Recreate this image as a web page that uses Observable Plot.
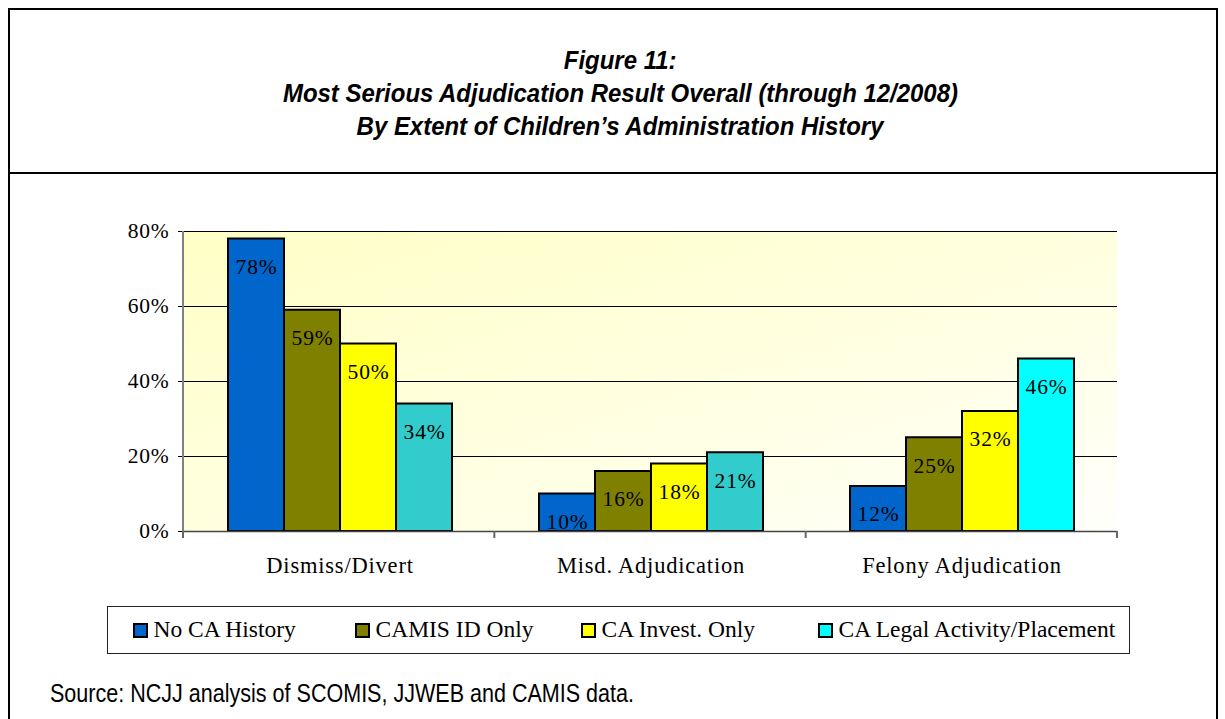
<!DOCTYPE html>
<html><head><meta charset="utf-8">
<script src="https://cdn.jsdelivr.net/npm/d3@7"></script>
<script src="https://cdn.jsdelivr.net/npm/@observablehq/plot@0.6"></script>
<style>
  html,body{margin:0;padding:0;background:#fff;}
  body{width:1225px;height:719px;overflow:hidden;position:relative;font-family:"Liberation Serif","Times New Roman",serif;}
  #outer{position:absolute;left:8px;top:8px;width:1210px;height:740px;border:2px solid #000;box-sizing:border-box;}
  #sep{position:absolute;left:8px;top:172px;width:1210px;height:2px;background:#000;}
  #title{position:absolute;left:0;top:44px;width:1240px;text-align:center;font-family:"Liberation Sans",Arial,sans-serif;font-weight:bold;font-style:italic;font-size:26px;line-height:33px;color:#000;}
  #title span{display:inline-block;white-space:nowrap;transform-origin:center;}
  #chart{position:absolute;left:0;top:173px;}
  #chart svg text{letter-spacing:0.8px;}
  #legend{position:absolute;left:107px;top:606px;width:1023px;height:48px;border:1.5px solid #222;box-sizing:border-box;font-size:23.5px;}
  .item{position:absolute;top:0;height:45px;display:flex;align-items:center;white-space:nowrap;}
  .sw{width:11px;height:11px;border:2px solid #000;margin-right:6px;margin-top:1px;}
  #source{position:absolute;left:50px;top:679px;font-family:"Liberation Sans",Arial,sans-serif;font-size:25px;line-height:28px;white-space:nowrap;transform-origin:left center;}
</style>
</head><body>
<div id="outer"></div>
<div id="sep"></div>
<div id="title"><span>Figure 11:</span><br><span>Most Serious Adjudication Result Overall (through 12/2008)</span><br><span>By Extent of Children’s Administration History</span></div>
<div id="chart"></div>
<div id="legend"></div>
<div id="source">Source: NCJJ analysis of SCOMIS, JJWEB and CAMIS data.</div>
<script>
// ---- data ----
const groups = ["Dismiss/Divert", "Misd. Adjudication", "Felony Adjudication"];
const series = ["No CA History", "CAMIS ID Only", "CA Invest. Only", "CA Legal Activity/Placement"];
const noCAHistory = [78, 10, 12];
const camisIdOnly = [59, 16, 25];
const caInvestOnly = [50, 18, 32];
const caLegalActivity = [34, 21, 46];
const yTicks = [0, 20, 40, 60, 80];
const gridTicks = [20, 40, 60, 80];
const legendColors = ["#0066CC", "#808000", "#FFFF00", "#00FFFF"];

const data = [];
[noCAHistory, camisIdOnly, caInvestOnly, caLegalActivity].forEach((vals, si) =>
  vals.forEach((v, gi) => data.push({group: groups[gi], series: series[si], value: v})));

const colorOf = new Map(series.map((s, i) => [s, legendColors[i]]));
// the 4th series is teal in the first two groups, bright cyan in the last group
const barFill = d => (d.series === series[3] && d.group !== groups[2]) ? "#33CCCC" : colorOf.get(d.series);

const W = 1225, H = 420, mL = 183, mR = 108, mT = 58, mB = 62;

const chart = Plot.plot({
  width: W, height: H,
  marginLeft: mL, marginRight: mR, marginTop: mT, marginBottom: mB,
  style: {background: "transparent", fontFamily: "'Liberation Serif','Times New Roman',serif", fontSize: "21px", color: "#000", overflow: "visible"},
  fx: {domain: groups, padding: 0, label: null},
  x: {domain: series, paddingInner: 0, paddingOuter: 0.73, axis: null},
  y: {domain: [0, 80], label: null},
  marks: [
    Plot.ruleY(gridTicks, {stroke: "#000", strokeWidth: 1}),
    Plot.barY(data, {fx: "group", x: "series", y: "value", fill: barFill, stroke: "#000", strokeWidth: 2}),
    Plot.text(data, {fx: "group", x: "series", y: "value", text: d => d.value + "%", dy: 28, fontSize: 21.5, fill: "#000"}),
    Plot.ruleY([0], {stroke: "#444", strokeWidth: 1.5}),
    Plot.axisY(yTicks, {tickFormat: d => d + "%", tickSize: 6, tickPadding: 9, fontSize: 21.5, label: null}),
    Plot.axisFx({anchor: "bottom", tickSize: 0, tickPadding: 26, fontSize: 22.5, label: null})
  ]
});
document.getElementById("chart").appendChild(chart);

// background gradient + axis lines derived from plot margins
const ns = "http://www.w3.org/2000/svg";
const defs = document.createElementNS(ns, "defs");
defs.innerHTML = '<linearGradient id="bgGrad" x1="0" y1="0" x2="1" y2="1"><stop offset="0" stop-color="#FFFFC6"/><stop offset="0.6" stop-color="#FFFFE4"/><stop offset="1" stop-color="#FFFFFB"/></linearGradient>';
const bg = document.createElementNS(ns, "rect");
bg.setAttribute("x", mL); bg.setAttribute("y", mT);
bg.setAttribute("width", W - mL - mR); bg.setAttribute("height", H - mT - mB);
bg.setAttribute("fill", "url(#bgGrad)");
const firstG = chart.querySelector("g");
chart.insertBefore(defs, firstG);
chart.insertBefore(bg, firstG);
const yLine = document.createElementNS(ns, "line");
yLine.setAttribute("x1", mL); yLine.setAttribute("x2", mL);
yLine.setAttribute("y1", mT); yLine.setAttribute("y2", H - mB);
yLine.setAttribute("stroke", "#808080"); yLine.setAttribute("stroke-width", 2);
chart.appendChild(yLine);
const step = (W - mL - mR) / groups.length;
for (let i = 0; i <= groups.length; i++) {
  const t = document.createElementNS(ns, "line");
  const x = mL + i * step;
  t.setAttribute("x1", x); t.setAttribute("x2", x);
  t.setAttribute("y1", H - mB); t.setAttribute("y2", H - mB + 7);
  t.setAttribute("stroke", "#666"); t.setAttribute("stroke-width", 2);
  chart.appendChild(t);
}

// legend
const legend = document.getElementById("legend");
const itemLeft = [24.5, 246.5, 472.5, 709.5];
series.forEach((s, i) => {
  const it = document.createElement("div"); it.className = "item"; it.style.left = itemLeft[i] + "px";
  const sw = document.createElement("div"); sw.className = "sw"; sw.style.background = legendColors[i];
  const tx = document.createElement("span"); tx.textContent = s;
  it.appendChild(sw); it.appendChild(tx); legend.appendChild(it);
});

// condense title & source to the reference widths
const spans = document.querySelectorAll("#title span");
const sx = 675 / spans[1].getBoundingClientRect().width;
spans.forEach(sp => sp.style.transform = `scaleX(${sx})`);
const src = document.getElementById("source");
src.style.display = "inline-block";
src.style.transform = `scaleX(${584 / src.getBoundingClientRect().width})`;
</script>
</body></html>
